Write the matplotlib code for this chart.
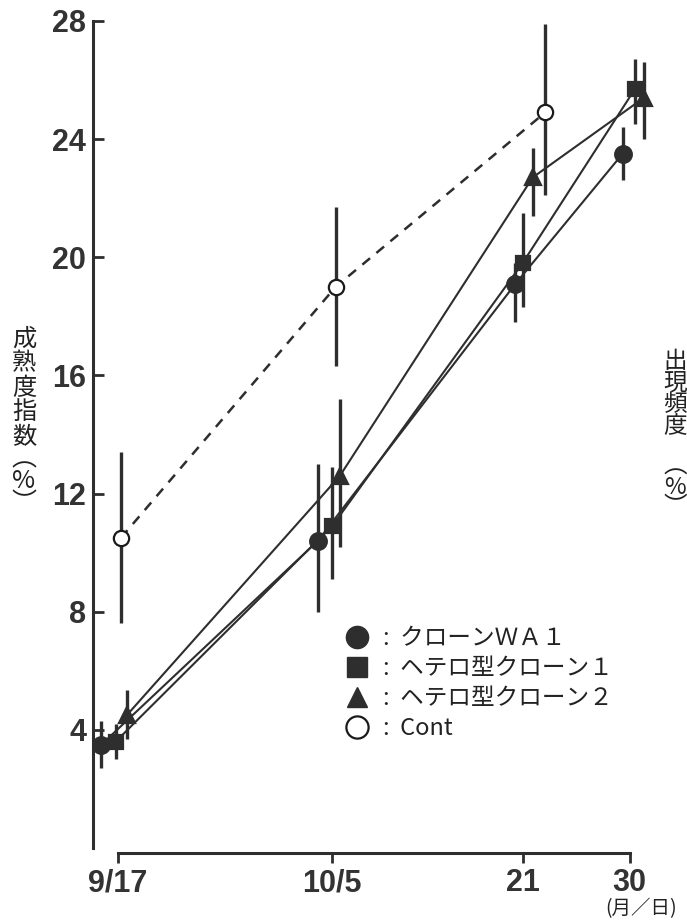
import matplotlib
matplotlib.use("Agg")
import matplotlib.pyplot as plt
from matplotlib.lines import Line2D
import numpy as np

# ---------------- data ----------------
day_labels = ["9/17", "10/5", "21", "30"]
days = np.array([0, 18, 34, 43])          # days since 9/17
y_ticks = [4, 8, 12, 16, 20, 24, 28]

series_names = ["クローンＷＡ１", "ヘテロ型クローン１", "ヘテロ型クローン２", "Cont"]

wa1_mean = [3.5, 10.4, 19.1, 23.5]
wa1_low = [2.7, 8.0, 17.8, 22.6]
wa1_high = [4.3, 13.0, 19.8, 24.4]

het1_mean = [3.6, 10.9, 19.8, 25.7]
het1_low = [3.0, 9.1, 18.3, 24.5]
het1_high = [4.2, 12.9, 21.5, 26.7]

het2_mean = [4.5, 12.6, 22.7, 25.4]
het2_low = [3.7, 10.2, 21.4, 24.0]
het2_high = [5.35, 15.2, 23.7, 26.6]

cont_days = np.array([0, 18, 34])
cont_mean = [10.5, 19.0, 24.9]
cont_low = [7.6, 16.3, 22.1]
cont_high = [13.4, 21.7, 27.9]

# horizontal jitter (days) used in the original to separate overlapping points
wa1_shift = [-1.4, -1.2, -0.6, -0.6]
het1_shift = [-0.2, 0.0, 0.0, 0.45]
het2_shift = [0.75, 0.65, 0.85, 1.2]
cont_shift = [0.25, 0.3, 1.9]

# ---------------- style ----------------
INK = "#2e2e2e"
CJK = ["Noto Sans CJK JP", "DejaVu Sans"]
NUM = ["Liberation Sans", "DejaVu Sans"]

fig = plt.figure(figsize=(6.87, 9.21), dpi=100)
W, H = 687, 921
ax = fig.add_axes([60 / W, (H - 870) / H, 620 / W, 860 / H])
ax.patch.set_alpha(0)

px_per_day = 11.9
px_per_unit = 29.54
ax.set_xlim((60 - 118) / px_per_day, (680 - 118) / px_per_day)
ax.set_ylim((848 - 870) / px_per_unit, (848 - 10) / px_per_unit)

def errs(mean, low, high):
    m = np.array(mean); return [m - np.array(low), np.array(high) - m]

groups = [
    (days + np.array(wa1_shift), wa1_mean, wa1_low, wa1_high, "o", 12, INK, INK, "-"),
    (days + np.array(het1_shift), het1_mean, het1_low, het1_high, "s", 10, INK, INK, "-"),
    (days + np.array(het2_shift), het2_mean, het2_low, het2_high, "^", 11, INK, INK, "-"),
    (cont_days + np.array(cont_shift), cont_mean, cont_low, cont_high, "o", 11, "white", "#1a1a1a", (0, (4, 3.3))),
]

for x, m, lo, hi, mk, ms, fc, ec, ls in groups:
    ax.errorbar(x, m, yerr=errs(m, lo, hi), fmt="none", ecolor=INK,
                elinewidth=2.4, capsize=0, zorder=2, clip_on=False)
    lw = 1.8 if ls != "-" else 1.5
    ax.plot(x, m, linestyle=ls, color=INK, lw=lw, zorder=2, clip_on=False)
    ax.plot(x, m, linestyle="none", marker=mk, ms=ms, mfc=fc, mec=ec,
            mew=1.6, zorder=3, clip_on=False)

# axes / spines
for s in ["top", "right"]:
    ax.spines[s].set_visible(False)
ax.spines["left"].set_position(("data", (93 - 118) / px_per_day))
ax.spines["left"].set_bounds(0, 28)
ax.spines["bottom"].set_position(("data", (848 - 853) / px_per_unit))
ax.spines["bottom"].set_bounds(days[0], days[-1])
for s in ["left", "bottom"]:
    ax.spines[s].set_linewidth(2.2)
    ax.spines[s].set_color(INK)

ax.set_yticks(y_ticks)
ax.set_yticklabels([str(v) for v in y_ticks])
ax.set_xticks(days)
ax.set_xticklabels(day_labels)
ax.tick_params(axis="y", direction="in", length=8, width=2, color=INK, pad=5)
ax.tick_params(axis="x", direction="out", length=7, width=2, color=INK, pad=4)
for lab in ax.get_yticklabels() + ax.get_xticklabels():
    lab.set_fontfamily(NUM)
    lab.set_fontweight("bold")
    lab.set_fontsize(22)
    lab.set_color("#333333")

# y-axis label (vertical writing)
fig.text(24 / W, 1 - 326 / H, "成\n熟\n度\n指\n数", family=CJK, fontsize=17.5,
         ha="center", va="top", linespacing=0.92, color="#222222")
fig.text(24 / W, 1 - 481 / H, "︵\n%\n︶", family=CJK, fontsize=18,
         ha="center", va="center", linespacing=0.8, color="#222222")

# right-hand label (at the right edge)
fig.text(675 / W, 1 - 350 / H, "出\n現\n頻\n度", family=CJK, fontsize=17,
         ha="center", va="top", linespacing=0.92, color="#222222")
fig.text(675 / W, 1 - 487 / H, "︵\n%\n︶", family=CJK, fontsize=17,
         ha="center", va="center", linespacing=0.8, color="#222222")

# unit
fig.text(605 / W, 1 - 909 / H, "(月／日)", family=CJK, fontsize=14,
         ha="left", va="center", color="#222222")

# legend
handles = [
    Line2D([], [], ls="none", marker="o", ms=16, mfc=INK, mec=INK),
    Line2D([], [], ls="none", marker="s", ms=14, mfc=INK, mec=INK),
    Line2D([], [], ls="none", marker="^", ms=14, mfc=INK, mec=INK),
    Line2D([], [], ls="none", marker="o", ms=16, mfc="white", mec="#1a1a1a", mew=1.6),
]
labels = ":  " + np.array(series_names, dtype=object)
leg = fig.legend(handles, list(labels), loc="upper left",
                 bbox_to_anchor=(346 / W, 1 - 627 / H), bbox_transform=fig.transFigure,
                 frameon=False, borderpad=0, borderaxespad=0, handlelength=0.95,
                 handletextpad=0.6, labelspacing=0.3,
                 prop={"family": CJK, "size": 17})
for t in leg.get_texts():
    t.set_color("#222222")

fig.savefig("out.png", dpi=100)
